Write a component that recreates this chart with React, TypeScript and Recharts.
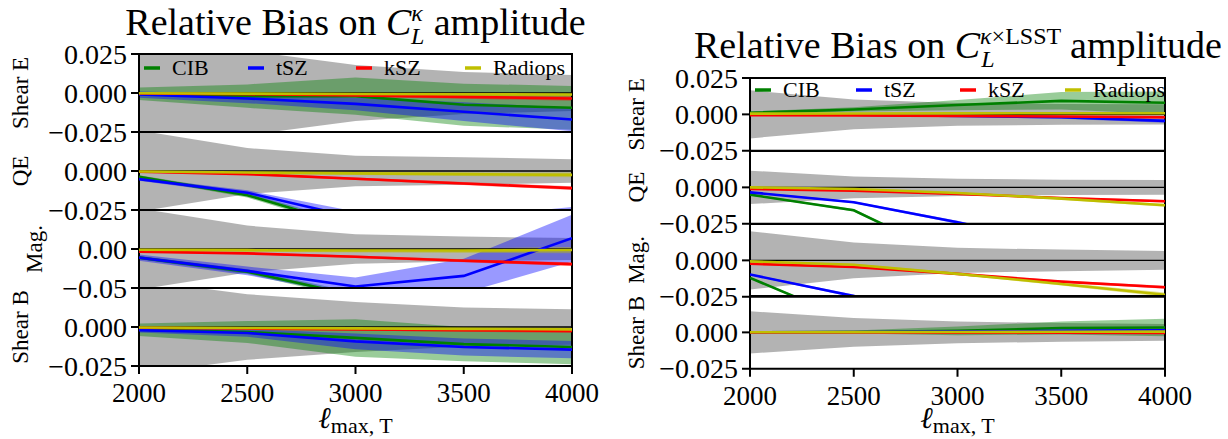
import React from 'react';
import { ComposedChart, Area, Line, XAxis, YAxis, ReferenceLine, ReferenceArea } from 'recharts';

const FONT = '"Liberation Serif", "DejaVu Serif", serif';

// ---------- categories / labels ----------
const ell = [2000, 2500, 3000, 3500, 4000];
const xTicks = [2000, 2500, 3000, 3500, 4000];
const seriesNames = ['CIB', 'tSZ', 'kSZ', 'Radiops'];
const seriesColors = ['#008000', '#0000ff', '#ff0000', '#bfbf00'];
const rowLabels = ['Shear E', 'QE', 'Mag.', 'Shear B'];

// ---------- left panel: C_L^kappa ----------
const L_SE_GRAY = [0.045, 0.027, 0.018, 0.0135, 0.0115];
const L_SE_CIB = [-0.0005, -0.002, -0.002, -0.0075, -0.0095];
const L_SE_CIB_ERR = [0.004, 0.0075, 0.012, 0.0135, 0.014];
const L_SE_TSZ = [-0.001, -0.0035, -0.007, -0.012, -0.017];
const L_SE_TSZ_ERR = [0.002, 0.003, 0.004, 0.006, 0.0075];
const L_SE_KSZ = [-0.0003, -0.0008, -0.0015, -0.0025, -0.0035];
const L_SE_KSZ_ERR = [0.0007, 0.0008, 0.001, 0.0012, 0.0015];
const L_SE_RAD = [-0.0002, -0.0004, -0.0006, -0.0008, -0.001];
const L_SE_RAD_ERR = [0.0006, 0.0007, 0.0008, 0.001, 0.0012];

const L_QE_GRAY = [0.026, 0.0147, 0.0098, 0.0088, 0.0076];
const L_QE_CIB = [-0.0037, -0.0155, -0.036, -0.05, -0.06];
const L_QE_CIB_ERR = [0.001, 0.0015, 0.002, 0.003, 0.003];
const L_QE_TSZ = [-0.0052, -0.0139, -0.03, -0.04, -0.045];
const L_QE_TSZ_ERR = [0.001, 0.0015, 0.004, 0.01, 0.022];
const L_QE_KSZ = [-0.0005, -0.002, -0.005, -0.008, -0.011];
const L_QE_KSZ_ERR = [0.0005, 0.0006, 0.0008, 0.001, 0.0012];
const L_QE_RAD = [-0.0003, -0.001, -0.0015, -0.002, -0.0025];
const L_QE_RAD_ERR = [0.0006, 0.0008, 0.001, 0.0012, 0.0015];

const L_MG_GRAY = [0.052, 0.03, 0.019, 0.016, 0.014];
const L_MG_CIB = [-0.011, -0.029, -0.06, -0.08, -0.09];
const L_MG_CIB_ERR = [0.002, 0.003, 0.004, 0.005, 0.006];
const L_MG_TSZ = [-0.011, -0.028, -0.048, -0.0345, 0.0138];
const L_MG_TSZ_ERR = [0.004, 0.0055, 0.0115, 0.022, 0.03];
const L_MG_KSZ = [-0.0034, -0.0056, -0.0099, -0.015, -0.0194];
const L_MG_KSZ_ERR = [0.001, 0.0012, 0.0015, 0.002, 0.0025];
const L_MG_RAD = [-0.001, -0.0015, -0.002, -0.002, -0.0013];
const L_MG_RAD_ERR = [0.0015, 0.002, 0.0025, 0.003, 0.004];

const L_SB_GRAY = [0.03, 0.021, 0.016, 0.0125, 0.0113];
const L_SB_CIB = [-0.0017, -0.0032, -0.007, -0.011, -0.0128];
const L_SB_CIB_ERR = [0.004, 0.007, 0.012, 0.011, 0.011];
const L_SB_TSZ = [-0.002, -0.0038, -0.0092, -0.0128, -0.0145];
const L_SB_TSZ_ERR = [0.0015, 0.0025, 0.005, 0.0055, 0.0055];
const L_SB_KSZ = [-0.0005, -0.001, -0.0015, -0.002, -0.0026];
const L_SB_KSZ_ERR = [0.0005, 0.0006, 0.0008, 0.001, 0.0012];
const L_SB_RAD = [-0.0003, -0.0006, -0.0009, -0.0012, -0.0015];
const L_SB_RAD_ERR = [0.0006, 0.0008, 0.001, 0.0012, 0.0014];

// ---------- right panel: C_L^{kappa x LSST} ----------
const R_SE_GRAY = [0.0165, 0.0103, 0.0078, 0.0072, 0.007];
const R_SE_CIB = [0.0011, 0.0034, 0.0064, 0.0093, 0.008];
const R_SE_CIB_ERR = [0.0008, 0.0015, 0.0035, 0.006, 0.0078];
const R_SE_TSZ = [0, -0.0003, -0.001, -0.002, -0.0045];
const R_SE_TSZ_ERR = [0.0004, 0.0005, 0.0007, 0.001, 0.0012];
const R_SE_KSZ = [-0.0005, -0.0007, -0.001, -0.0015, -0.002];
const R_SE_KSZ_ERR = [0.0004, 0.0005, 0.0006, 0.0008, 0.001];
const R_SE_RAD = [0.0005, 0.0006, 0.0007, 0.0008, 0.0008];
const R_SE_RAD_ERR = [0.0004, 0.0005, 0.0006, 0.0008, 0.001];

const R_QE_GRAY = [0.0115, 0.0075, 0.006, 0.0053, 0.005];
const R_QE_CIB = [-0.005, -0.0157, -0.05, -0.07, -0.08];
const R_QE_CIB_ERR = [0.0005, 0.0008, 0.001, 0.001, 0.001];
const R_QE_TSZ = [-0.0034, -0.0102, -0.024, -0.04, -0.05];
const R_QE_TSZ_ERR = [0.0004, 0.0007, 0.001, 0.002, 0.003];
const R_QE_KSZ = [-0.0011, -0.0023, -0.0045, -0.0073, -0.0095];
const R_QE_KSZ_ERR = [0.0003, 0.0004, 0.0005, 0.0007, 0.0009];
const R_QE_RAD = [0, -0.0011, -0.0039, -0.0077, -0.0123];
const R_QE_RAD_ERR = [0.0003, 0.0004, 0.0006, 0.0008, 0.001];

const R_MG_GRAY = [0.02, 0.0123, 0.0086, 0.0074, 0.0065];
const R_MG_CIB = [-0.012, -0.042, -0.07, -0.09, -0.1];
const R_MG_CIB_ERR = [0.0005, 0.001, 0.001, 0.001, 0.001];
const R_MG_TSZ = [-0.0097, -0.0245, -0.045, -0.06, -0.07];
const R_MG_TSZ_ERR = [0.0005, 0.001, 0.002, 0.003, 0.003];
const R_MG_KSZ = [-0.0023, -0.0046, -0.0093, -0.0146, -0.0185];
const R_MG_KSZ_ERR = [0.0004, 0.0005, 0.0006, 0.0008, 0.001];
const R_MG_RAD = [-0.0007, -0.003, -0.0093, -0.0162, -0.0236];
const R_MG_RAD_ERR = [0.0004, 0.0006, 0.0008, 0.001, 0.0015];

const R_SB_GRAY = [0.0145, 0.0098, 0.0075, 0.0064, 0.0057];
const R_SB_CIB = [0, 0.0003, 0.001, 0.003, 0.0034];
const R_SB_CIB_ERR = [0.0005, 0.001, 0.003, 0.0045, 0.006];
const R_SB_TSZ = [0, 0.0002, 0.0005, 0.001, 0.0015];
const R_SB_TSZ_ERR = [0.0003, 0.0004, 0.0005, 0.0007, 0.001];
const R_SB_KSZ = [0, -0.0001, -0.0002, -0.0003, -0.0004];
const R_SB_KSZ_ERR = [0.0003, 0.0003, 0.0004, 0.0005, 0.0006];
const R_SB_RAD = [0.0001, 0.0002, 0.0003, 0.0004, 0.0005];
const R_SB_RAD_ERR = [0.0003, 0.0004, 0.0005, 0.0006, 0.0008];

// axis ranges / ticks per row
const RANGE_025 = [-0.025, 0.025];
const RANGE_05 = [-0.05, 0.05];
const TICKS_TOP_025 = [-0.025, 0, 0.025];
const TICKS_025 = [-0.025, 0];
const TICKS_05 = [-0.05, 0];

type Spec = {
  gray: number[];
  vals: number[][];
  errs: number[][];
  domain: number[];
  ticks: number[];
  decimals: number;
};

const leftSpecs: Spec[] = [
  { gray: L_SE_GRAY, vals: [L_SE_CIB, L_SE_TSZ, L_SE_KSZ, L_SE_RAD], errs: [L_SE_CIB_ERR, L_SE_TSZ_ERR, L_SE_KSZ_ERR, L_SE_RAD_ERR], domain: RANGE_025, ticks: TICKS_TOP_025, decimals: 3 },
  { gray: L_QE_GRAY, vals: [L_QE_CIB, L_QE_TSZ, L_QE_KSZ, L_QE_RAD], errs: [L_QE_CIB_ERR, L_QE_TSZ_ERR, L_QE_KSZ_ERR, L_QE_RAD_ERR], domain: RANGE_025, ticks: TICKS_025, decimals: 3 },
  { gray: L_MG_GRAY, vals: [L_MG_CIB, L_MG_TSZ, L_MG_KSZ, L_MG_RAD], errs: [L_MG_CIB_ERR, L_MG_TSZ_ERR, L_MG_KSZ_ERR, L_MG_RAD_ERR], domain: RANGE_05, ticks: TICKS_05, decimals: 2 },
  { gray: L_SB_GRAY, vals: [L_SB_CIB, L_SB_TSZ, L_SB_KSZ, L_SB_RAD], errs: [L_SB_CIB_ERR, L_SB_TSZ_ERR, L_SB_KSZ_ERR, L_SB_RAD_ERR], domain: RANGE_025, ticks: TICKS_025, decimals: 3 },
];

const rightSpecs: Spec[] = [
  { gray: R_SE_GRAY, vals: [R_SE_CIB, R_SE_TSZ, R_SE_KSZ, R_SE_RAD], errs: [R_SE_CIB_ERR, R_SE_TSZ_ERR, R_SE_KSZ_ERR, R_SE_RAD_ERR], domain: RANGE_025, ticks: TICKS_TOP_025, decimals: 3 },
  { gray: R_QE_GRAY, vals: [R_QE_CIB, R_QE_TSZ, R_QE_KSZ, R_QE_RAD], errs: [R_QE_CIB_ERR, R_QE_TSZ_ERR, R_QE_KSZ_ERR, R_QE_RAD_ERR], domain: RANGE_025, ticks: TICKS_025, decimals: 3 },
  { gray: R_MG_GRAY, vals: [R_MG_CIB, R_MG_TSZ, R_MG_KSZ, R_MG_RAD], errs: [R_MG_CIB_ERR, R_MG_TSZ_ERR, R_MG_KSZ_ERR, R_MG_RAD_ERR], domain: RANGE_025, ticks: TICKS_025, decimals: 3 },
  { gray: R_SB_GRAY, vals: [R_SB_CIB, R_SB_TSZ, R_SB_KSZ, R_SB_RAD], errs: [R_SB_CIB_ERR, R_SB_TSZ_ERR, R_SB_KSZ_ERR, R_SB_RAD_ERR], domain: RANGE_025, ticks: TICKS_025, decimals: 3 },
];

const fmt = (decimals: number) => (v: number) => {
  const s = Math.abs(v).toFixed(decimals);
  return v < -1e-12 ? '\u2212' + s : s;
};

const makeRows = (spec: Spec) =>
  ell.map((x, i) => {
    const row: any = { x, gray: [-spec.gray[i], spec.gray[i]] };
    spec.vals.forEach((v, k) => {
      row['s' + k] = v[i];
      row['b' + k] = [v[i] - spec.errs[k][i], v[i] + spec.errs[k][i]];
    });
    return row;
  });

type SubProps = {
  spec: Spec;
  chartLeft: number;
  plotLeft: number;
  plotRight: number;
  top: number;
  h: number;
  bottom: boolean;
};

const MT = 20;
const MR = 40;
const TICK_FS = 28;

const YTick = (decimals: number) => (props: any) => {
  const { x, y, payload } = props;
  return (
    <text x={x} y={y} dy="0.34em" textAnchor="end" fontSize={TICK_FS} fontFamily={FONT} fill="#000">
      {fmt(decimals)(payload.value)}
    </text>
  );
};

const XTick = (props: any) => {
  const { x, y, payload } = props;
  return (
    <text x={x} y={y} dy="0.7em" textAnchor="middle" fontSize={27} fontFamily={FONT} fill="#000">
      {String(payload.value)}
    </text>
  );
};

function Subplot({ spec, chartLeft, plotLeft, plotRight, top, h, bottom }: SubProps) {
  const xAxisH = 73;
  const width = plotRight - chartLeft + MR;
  const height = MT + h + (bottom ? xAxisH : 20);
  const data = makeRows(spec);
  const items: React.ReactNode[] = [];
  spec.vals.forEach((_, k) => {
    items.push(
      <Area
        key={'b' + k}
        dataKey={'b' + k}
        type="linear"
        stroke="none"
        fill={seriesColors[k]}
        fillOpacity={0.4}
        isAnimationActive={false}
        legendType="none"
        activeDot={false}
        dot={false}
      />
    );
    items.push(
      <Line
        key={'s' + k}
        dataKey={'s' + k}
        name={seriesNames[k]}
        type="linear"
        stroke={seriesColors[k]}
        strokeWidth={2.6}
        dot={false}
        activeDot={false}
        isAnimationActive={false}
      />
    );
  });
  return (
    <div style={{ position: 'absolute', left: chartLeft, top: top - MT }}>
      <ComposedChart
        width={width}
        height={height}
        data={data}
        margin={{ top: MT, right: MR, left: 0, bottom: bottom ? 0 : 20 }}
      >
        <XAxis
          type="number"
          dataKey="x"
          domain={[2000, 4000]}
          ticks={xTicks}
          allowDataOverflow
          hide={!bottom}
          height={bottom ? xAxisH : 0}
          interval={0}
          tickSize={8}
          tickMargin={9}
          axisLine={false}
          tickLine={{ stroke: '#000', strokeWidth: 2 }}
          tick={XTick}
        />
        <YAxis
          type="number"
          domain={spec.domain}
          ticks={spec.ticks}
          allowDataOverflow
          width={plotLeft - chartLeft}
          interval={0}
          tickSize={8}
          tickMargin={4}
          axisLine={false}
          tickLine={{ stroke: '#000', strokeWidth: 2 }}
          tick={YTick(spec.decimals)}
        />
        <Area
          dataKey="gray"
          type="linear"
          stroke="none"
          fill="#808080"
          fillOpacity={0.6}
          isAnimationActive={false}
          legendType="none"
          activeDot={false}
          dot={false}
        />
        <ReferenceLine y={0} stroke="#000" strokeWidth={1.3} />
        {items}
        <ReferenceArea
          x1={2000}
          x2={4000}
          y1={spec.domain[0]}
          y2={spec.domain[1]}
          fill="none"
          fillOpacity={0}
          stroke="#000"
          strokeWidth={2}
          ifOverflow="visible"
        />
      </ComposedChart>
    </div>
  );
}

const LEFT = { chartLeft: 0, plotLeft: 139, plotRight: 572, tops: [54, 132, 210, 288], h: 78, labelX: [20, 20, 34, 20] };
const RIGHT = { chartLeft: 600, plotLeft: 750, plotRight: 1165, tops: [78, 150.75, 223.5, 296.25], h: 72.75, labelX: [636, 636, 636, 636] };

function Legend({ textX, y }: { textX: number[]; y: number }) {
  return (
    <g>
      {seriesNames.map((n, k) => (
        <g key={n}>
          <line x1={textX[k] - 28} x2={textX[k] - 12} y1={y} y2={y} stroke={seriesColors[k]} strokeWidth={3.5} />
          <text x={textX[k]} y={y + 7} fontSize={22} fontFamily={FONT} fill="#000">
            {n}
          </text>
        </g>
      ))}
    </g>
  );
}

export default function App() {
  const panels = [
    { cfg: LEFT, specs: leftSpecs },
    { cfg: RIGHT, specs: rightSpecs },
  ];
  return (
    <div style={{ position: 'absolute', left: 0, top: 0, width: 1228, height: 439, background: '#fff', overflow: 'hidden', fontFamily: FONT }}>
      {panels.map((p, pi) =>
        p.specs.map((spec, r) => (
          <Subplot
            key={pi + '-' + r}
            spec={spec}
            chartLeft={p.cfg.chartLeft}
            plotLeft={p.cfg.plotLeft}
            plotRight={p.cfg.plotRight}
            top={p.cfg.tops[r]}
            h={p.cfg.h}
            bottom={r === 3}
          />
        ))
      )}
      <svg width={1228} height={439} style={{ position: 'absolute', left: 0, top: 0, pointerEvents: 'none' }}>
        {/* titles */}
        <text x={355.5} y={35} textAnchor="middle" fontSize={38} fontFamily={FONT} fill="#000">
          Relative Bias on <tspan fontStyle="italic">C</tspan>
          <tspan fontSize={24} fontStyle="italic" dy={-14}>κ</tspan>
          <tspan fontSize={24} fontStyle="italic" dx={-12} dy={23}>L</tspan>
          <tspan dy={-9}> amplitude</tspan>
        </text>
        <text x={958} y={58} textAnchor="middle" fontSize={38} fontFamily={FONT} fill="#000">
          Relative Bias on <tspan fontStyle="italic">C</tspan>
          <tspan fontSize={24} fontStyle="italic" dy={-14}>κ</tspan>
          <tspan fontSize={24}>×LSST</tspan>
          <tspan fontSize={24} fontStyle="italic" dx={-80} dy={23}>L</tspan>
          <tspan dx={66} dy={-9}> amplitude</tspan>
        </text>
        {/* y labels */}
        {[LEFT, RIGHT].map((cfg, pi) =>
          rowLabels.map((lab, r) => {
            const cx = cfg.labelX[r];
            const cy = cfg.tops[r] + cfg.h / 2;
            return (
              <text
                key={pi + lab}
                x={cx}
                y={cy}
                textAnchor="middle"
                dominantBaseline="central"
                fontSize={23}
                fontFamily={FONT}
                fill="#000"
                transform={`rotate(-90 ${cx} ${cy})`}
              >
                {lab}
              </text>
            );
          })
        )}
        {/* x labels */}
        {[LEFT, RIGHT].map((cfg, pi) => (
          <text key={'xl' + pi} x={(cfg.plotLeft + cfg.plotRight) / 2} y={428} textAnchor="middle" fontFamily={FONT} fill="#000">
            <tspan fontSize={30} fontStyle="italic">ℓ</tspan>
            <tspan fontSize={22} dy={5}>max, T</tspan>
          </text>
        ))}
        <Legend textX={[172, 276, 384, 493]} y={68} />
        <Legend textX={[783, 884, 988, 1093]} y={90} />
      </svg>
    </div>
  );
}
